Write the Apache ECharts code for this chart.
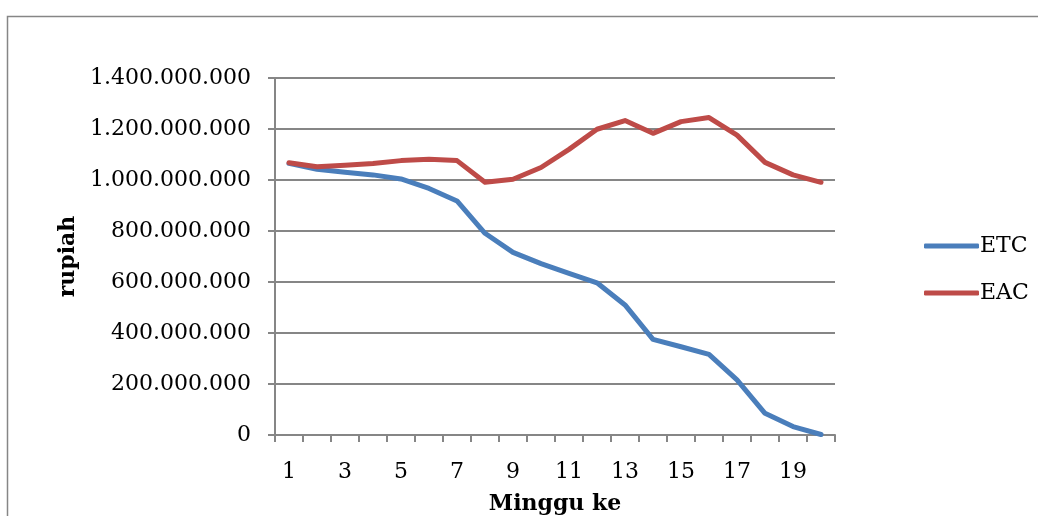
<!DOCTYPE html>
<html>
<head>
<meta charset="utf-8">
<script src="https://cdn.jsdelivr.net/npm/echarts@6/dist/echarts.min.js"></script>
<style>
html,body{margin:0;padding:0;background:#fff;}
#chart{width:1038px;height:516px;}
</style>
</head>
<body>
<div id="chart"></div>
<script>
const weeks = ['1','2','3','4','5','6','7','8','9','10','11','12','13','14','15','16','17','18','19','20'];
const etc = [1065000000,1042000000,1030000000,1020000000,1004000000,967000000,918000000,791000000,716000000,672000000,634000000,597000000,510000000,375000000,346000000,316000000,216000000,85000000,33000000,2000000];
const eac = [1068000000,1052000000,1058000000,1065000000,1076000000,1081000000,1076000000,991000000,1003000000,1049000000,1120000000,1199000000,1233000000,1183000000,1229000000,1245000000,1176000000,1069000000,1020000000,991000000];
const seriesNames = ['ETC','EAC'];
const yTicks = {min:0, max:1400000000, interval:200000000};

function fmt(v){
  return String(v).replace(/\B(?=(\d{3})+(?!\d))/g,'.');
}
const font = '"DejaVu Serif", serif';
const chart = echarts.init(document.getElementById('chart'));
chart.setOption({
  animation:false,
  backgroundColor:'#fff',
  graphic:[{type:'rect',left:5,top:14,shape:{width:1060,height:520},style:{fill:'none',stroke:'#868686',lineWidth:1.5},silent:true}],
  grid:{left:275,right:203,top:78,bottom:81,containLabel:false,outerBoundsMode:'none'},
  legend:{
    orient:'vertical', left:919, top:230, itemWidth:55, itemHeight:5, itemGap:25,
    icon:'roundRect',
    textStyle:{fontFamily:font,fontSize:22,color:'#000',padding:[0,0,0,-4]},
    data:seriesNames
  },
  xAxis:{
    type:'category', data:weeks, boundaryGap:true,
    name:'Minggu ke', nameLocation:'middle', nameGap:58,
    nameTextStyle:{fontFamily:font,fontSize:22,fontWeight:'bold',color:'#000'},
    axisLine:{lineStyle:{color:'#868686',width:2}},
    axisTick:{show:true,length:7,interval:0,lineStyle:{color:'#868686',width:2}},
    axisLabel:{interval:1,margin:26,fontFamily:font,fontSize:22,color:'#000'}
  },
  yAxis:{
    type:'value', min:yTicks.min, max:yTicks.max, interval:yTicks.interval,
    name:'rupiah', nameLocation:'middle', nameGap:195, nameRotate:90,
    nameTextStyle:{fontFamily:font,fontSize:22,fontWeight:'bold',color:'#000'},
    axisLine:{show:true,lineStyle:{color:'#868686',width:2}},
    axisTick:{show:true,length:7,lineStyle:{color:'#868686',width:2}},
    splitLine:{lineStyle:{color:'#868686',width:2}},
    axisLabel:{margin:24,fontFamily:font,fontSize:22,color:'#000',formatter:fmt}
  },
  series:[
    {name:seriesNames[0],type:'line',data:etc,symbol:'none',lineStyle:{width:5,color:'#4a7ebb',cap:'round',join:'round'},itemStyle:{color:'#4a7ebb'}},
    {name:seriesNames[1],type:'line',data:eac,symbol:'none',lineStyle:{width:5,color:'#be4b48',cap:'round',join:'round'},itemStyle:{color:'#be4b48'}}
  ]
});
</script>
</body>
</html>
